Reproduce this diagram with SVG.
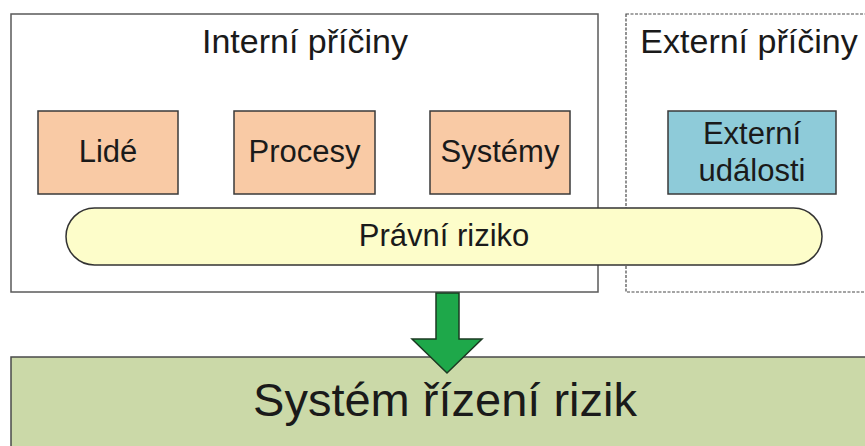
<svg xmlns="http://www.w3.org/2000/svg" width="865" height="446" viewBox="0 0 865 446">
  <style>
    text { font-family: "Liberation Sans", Arial, sans-serif; fill: #1a1a1a; text-anchor: middle; }
    .frame { fill: #ffffff; stroke: #5a5a5a; stroke-width: 1.5; }
    .dashed { fill: #ffffff; stroke: #4a4a4a; stroke-width: 1.2; stroke-dasharray: 3 1.5; }
    .cause { fill: #f9caa5; stroke: #3a3a3a; stroke-width: 1.5; }
    .ext { fill: #8ecbd9; stroke: #3a3a3a; stroke-width: 1.5; }
    .pill { fill: #fdfdca; stroke: #333333; stroke-width: 1.5; }
    .base { fill: #cbd9a8; stroke: #4a4a4a; stroke-width: 1.5; }
    .flow { fill: #1ea84a; stroke: #1b3a22; stroke-width: 1.5; stroke-linejoin: miter; }
    .title { font-size: 34px; }
    .label { font-size: 31px; }
    .big { font-size: 47px; }
  </style>

  <!-- group frames -->
  <g id="internal">
    <rect class="frame" x="11" y="14" width="587" height="278"/>
    <text class="title" x="305" y="53">Interní příčiny</text>
  </g>
  <g id="external">
    <rect class="dashed" x="626" y="14" width="250" height="278"/>
    <text class="title" x="749" y="53">Externí příčiny</text>
  </g>

  <!-- cause nodes -->
  <g id="lide">
    <rect class="cause" x="38" y="111" width="140" height="83"/>
    <text class="label" x="108" y="162">Lidé</text>
  </g>
  <g id="procesy">
    <rect class="cause" x="234" y="111" width="141" height="83"/>
    <text class="label" x="304.5" y="162">Procesy</text>
  </g>
  <g id="systemy">
    <rect class="cause" x="430" y="111" width="140" height="83"/>
    <text class="label" x="500" y="162">Systémy</text>
  </g>
  <g id="externi-udalosti">
    <rect class="ext" x="668" y="111" width="168" height="83"/>
    <text class="label" x="752" y="144">Externí</text>
    <text class="label" x="752" y="181">události</text>
  </g>

  <!-- legal risk band -->
  <g id="pravni-riziko">
    <rect class="pill" x="66" y="208" width="756" height="57" rx="28.5" ry="28.5"/>
    <text class="label" x="444" y="246">Právní riziko</text>
  </g>

  <!-- risk management system -->
  <g id="system-rizeni">
    <rect class="base" x="11" y="357" width="870" height="100"/>
    <text class="big" x="445" y="416">Systém řízení rizik</text>
  </g>

  <!-- connectors -->
  <g id="connectors">
    <path class="flow" d="M436 293 H459 V339 H482 L447 373 L412 339 H436 Z"/>
  </g>
</svg>
